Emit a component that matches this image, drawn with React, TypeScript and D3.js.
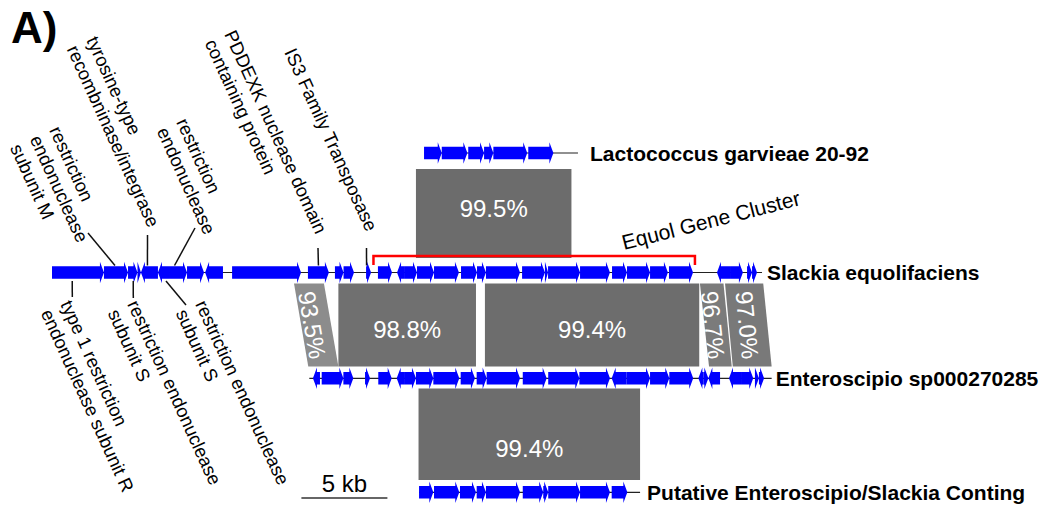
import React from "react";
import * as d3 from "d3";

// Genes per contig: [start kb, end kb, strand] (strand 1 = forward, -1 = reverse)
type Gene = [number, number, number];

const lactococcusGenes: Gene[] = [
  [21.63, 22.66, 1], [22.66, 24.15, 1], [24.2, 25.12, 1], [25.12, 25.66, 1],
  [25.66, 27.63, 1], [27.69, 29.15, 1],
];

const slackiaGenes: Gene[] = [
  [0, 3.02, 1], [3.02, 4.42, 1], [4.42, 4.97, 1], [4.97, 5.17, 1], [5.17, 6.16, -1],
  [6.16, 6.86, -1], [6.86, 7.85, 1], [7.85, 8.84, 1], [8.9, 9.94, -1], [10.47, 14.48, 1],
  [14.88, 16.1, 1], [16.45, 16.95, 1], [16.95, 17.56, 1], [18.26, 18.55, 1], [18.95, 19.77, 1],
  [20.06, 20.52, -1], [20.52, 21.22, 1], [21.22, 22.21, 1], [22.21, 23.66, 1], [23.78, 24.71, 1],
  [24.71, 25.23, 1], [25.23, 27.21, 1], [27.33, 28.66, 1], [28.66, 28.84, 1], [28.84, 30.7, 1],
  [30.7, 32.44, 1], [32.56, 33.43, 1], [33.43, 34.77, 1], [34.77, 35.81, 1], [35.87, 37.27, 1],
  [38.66, 39.42, -1], [39.42, 40.17, 1], [40.41, 40.7, 1], [40.7, 40.99, 1],
];

const enteroscipioGenes: Gene[] = [
  [15.17, 15.58, -1], [15.68, 16.94, 1], [16.94, 17.52, 1], [18.2, 18.49, 1], [18.97, 19.75, 1],
  [20.04, 20.52, -1], [20.52, 21.16, 1], [21.16, 22.17, 1], [22.17, 23.68, 1], [23.76, 24.59, 1],
  [24.69, 25.27, 1], [25.27, 27.21, 1], [27.37, 28.76, 1], [28.85, 30.66, 1], [30.66, 32.44, 1],
  [32.54, 33.41, -1], [33.41, 34.77, 1], [34.77, 35.89, 1], [35.89, 37.28, 1], [37.58, 37.87, -1],
  [37.87, 38.16, 1], [38.16, 38.84, -1], [39.36, 40.06, -1], [40.06, 40.77, 1], [40.87, 41.1, 1],
  [41.1, 41.4, 1],
];

const putativeGenes: Gene[] = [
  [21.34, 22.17, 1], [22.21, 23.68, 1], [23.72, 24.65, 1], [24.69, 25.23, 1], [25.23, 27.21, 1],
  [27.37, 28.56, 1], [28.56, 28.85, 1], [28.85, 30.7, 1], [30.7, 32.44, 1], [32.54, 33.45, 1],
];

const trackNames = [
  "Lactococcus garvieae 20-92",
  "Slackia equolifaciens",
  "Enteroscipio sp000270285",
  "Putative Enteroscipio/Slackia Conting",
];
const trackGenes = [lactococcusGenes, slackiaGenes, enteroscipioGenes, putativeGenes];
const trackSpans: [number, number][] = [[21.63, 30.58], [0, 41.28], [14.96, 41.84], [21.34, 34.19]];

// Aligned regions between neighbouring contigs: upper span, lower span, % identity
const blockPairs = [0, 1, 1, 1, 1, 1, 2];
const blockUpper: [number, number][] = [
  [21.16, 30.2], [14.07, 15.81], [16.65, 24.65], [25.17, 37.63], [37.67, 39.04], [39.13, 41.35], [21.31, 34.19],
];
const blockLower: [number, number][] = [
  [21.16, 30.2], [14.9, 16.65], [16.65, 24.65], [25.17, 37.63], [38.2, 39.52], [39.58, 41.84], [21.31, 34.19],
];
const blockIdentity = [99.5, 93.5, 98.8, 99.4, 96.7, 97.0, 99.4];

// Equol gene cluster extent on the Slackia contig
const clusterSpan: [number, number] = [18.69, 37.38];
const clusterName = "Equol Gene Cluster";

// Gene annotations on the Slackia contig: text lines and annotated gene index
const upperNotes = [
  { lines: ["restriction", "endonuclease", "subunit M"], gene: 1 },
  { lines: ["tyrosine-type", "recombninase/integrase"], gene: 4 },
  { lines: ["restriction", "endonuclease"], gene: 6 },
  { lines: ["PDDEXK nuclease domain", "containing protein"], gene: 10 },
  { lines: ["IS3 Family Transposase"], gene: 13 },
];
const lowerNotes = [
  { lines: ["type 1 restriction", "endonuclease subunit R"], gene: 0 },
  { lines: ["restriction endonuclease", "subunit S"], gene: 2 },
  { lines: ["restriction endonuclease", "subunit S"], gene: 5 },
];

const scaleBarKb = 5;
const scaleBarStart = 14.5;

// ---- layout ----
const W = 1043;
const H = 507;
const trackY = [153, 272.5, 378.3, 492.3];
const labelGap = [12, 5, 4, 7];
const pairY: [number, number][] = [[169, 258], [283.5, 366.5], [388.5, 480]];
const blockLabelShift: [number, number][] = [[0, -5.5], [-4, 0], [0, 4], [0, 4], [-3, 0], [-1, 0], [0, 14]];
const upperLayout = [
  { tx: 49, ty: 130, from: [88, 233], dx: -1 },
  { tx: 86, ty: 40, from: [147.5, 235], dx: -2 },
  { tx: 176, ty: 122, from: [195, 228], dx: -4 },
  { tx: 224, ty: 34, from: [318, 248], dx: 0 },
  { tx: 284, ty: 52, from: [366.5, 248], dx: -2 },
];
const lowerLayout = [
  { tx: 60, ty: 304, from: [72.3, 297], dx: -5.7 },
  { tx: 127, ty: 304, from: [133.3, 298], dx: 0.5 },
  { tx: 195, ty: 304, from: [186, 305], dx: 2 },
];
const noteAngle = 65.5;
const noteLine = 21.5;
const noteSize = 18.5;
const FONT = "'Liberation Sans', Arial, Helvetica, sans-serif";

const bodyH = 6.2;
const headH = 10.8;
const headL = 4;

function geneShape(x1: number, x2: number, y: number, strand: number): string {
  const L = Math.min(headL, Math.abs(x2 - x1));
  const pts: [number, number][] =
    strand > 0
      ? [[x1, y - bodyH], [x2 - L, y - bodyH], [x2 - L, y - headH], [x2, y], [x2 - L, y + headH], [x2 - L, y + bodyH], [x1, y + bodyH]]
      : [[x2, y - bodyH], [x1 + L, y - bodyH], [x1 + L, y - headH], [x1, y], [x1 + L, y + headH], [x1 + L, y + bodyH], [x2, y + bodyH]];
  return "M" + pts.map((p) => p.join(",")).join("L") + "Z";
}

export default function App() {
  const x = d3.scaleLinear().domain([0, 42]).range([52, 52 + 42 * 17.2]);
  const shade = d3.scaleLinear<string>().domain([93.5, 99.5]).range(["#8c8c8c", "#6c6c6c"]);
  const line = d3.line();

  const geneMid = (g: Gene) => x((g[0] + g[1]) / 2);

  return (
    <svg width={W} height={H} style={{ position: "absolute", left: 0, top: 0 }} fontFamily={FONT}>
      <rect width={W} height={H} fill="#fff" />
      <text x={11} y={43} fontSize={44} fontWeight="bold">A)</text>

      {/* identity blocks */}
      {blockIdentity.map((id, i) => {
        const [y0, y1] = pairY[blockPairs[i]];
        const [a0, a1] = blockUpper[i];
        const [b0, b1] = blockLower[i];
        const pts: [number, number][] = [[x(a0), y0], [x(a1), y0], [x(b1), y1], [x(b0), y1]];
        const cx = (x(a0) + x(a1) + x(b0) + x(b1)) / 4 + blockLabelShift[i][0];
        const cy = (y0 + y1) / 2 + blockLabelShift[i][1];
        const narrow = x(a1) - x(a0) < 50;
        const slant = (Math.atan2((x(b0) + x(b1)) / 2 - (x(a0) + x(a1)) / 2, y1 - y0) * 180) / Math.PI;
        const rot = narrow ? 90 - slant : 0;
        return (
          <g key={i}>
            <path d={line(pts)! + "Z"} fill={shade(id)} />
            <text
              transform={`translate(${cx},${cy}) rotate(${rot})`}
              textAnchor="middle"
              dominantBaseline="central"
              fontSize={24}
              fill="#fff"
            >
              {id.toFixed(1)}%
            </text>
          </g>
        );
      })}

      {/* contigs */}
      {trackNames.map((name, t) => {
        const y = trackY[t];
        const [s, e] = trackSpans[t];
        return (
          <g key={name}>
            <line x1={x(s)} x2={x(e)} y1={y} y2={y} stroke="#222" strokeWidth={1.2} />
            {trackGenes[t].map((g, j) => (
              <path key={j} d={geneShape(x(g[0]), x(g[1]), y, g[2])} fill="#0000ff" />
            ))}
            <text x={x(e) + labelGap[t]} y={y} dominantBaseline="central" fontSize={21} fontWeight="bold">
              {name}
            </text>
          </g>
        );
      })}

      {/* equol gene cluster bracket */}
      <path
        d={`M${x(clusterSpan[0])},${trackY[1] - 7.5}V${trackY[1] - 16.5}H${x(clusterSpan[1])}V${trackY[1] - 7.5}`}
        fill="none"
        stroke="#ff0000"
        strokeWidth={2.5}
      />
      <text transform={`translate(624,250) rotate(-14.3)`} fontSize={21}>{clusterName}</text>

      {/* annotations above the Slackia contig */}
      {upperNotes.map((n, i) => {
        const L = upperLayout[i];
        const gx = geneMid(slackiaGenes[n.gene]) + L.dx;
        return (
          <g key={"u" + i}>
            <line x1={L.from[0]} y1={L.from[1]} x2={gx} y2={trackY[1] - 7} stroke="#111" strokeWidth={1.5} />
            <text transform={`translate(${L.tx},${L.ty}) rotate(${noteAngle})`} fontSize={noteSize}>
              {n.lines.map((s, k) => (
                <tspan key={k} x={0} dy={k ? noteLine : 0}>{s}</tspan>
              ))}
            </text>
          </g>
        );
      })}

      {/* annotations below the Slackia contig */}
      {lowerNotes.map((n, i) => {
        const L = lowerLayout[i];
        const gx = geneMid(slackiaGenes[n.gene]) + L.dx;
        return (
          <g key={"l" + i}>
            <line x1={gx} y1={trackY[1] + 8.5} x2={L.from[0]} y2={L.from[1]} stroke="#111" strokeWidth={1.5} />
            <text transform={`translate(${L.tx},${L.ty}) rotate(${noteAngle})`} fontSize={noteSize}>
              {n.lines.map((s, k) => (
                <tspan key={k} x={0} dy={k ? noteLine : 0}>{s}</tspan>
              ))}
            </text>
          </g>
        );
      })}

      {/* scale bar */}
      <line
        x1={x(scaleBarStart)}
        x2={x(scaleBarStart + scaleBarKb)}
        y1={498}
        y2={498}
        stroke="#333"
        strokeWidth={1.5}
      />
      <text x={(x(scaleBarStart) + x(scaleBarStart + scaleBarKb)) / 2} y={492} textAnchor="middle" fontSize={24}>
        {scaleBarKb} kb
      </text>
    </svg>
  );
}
